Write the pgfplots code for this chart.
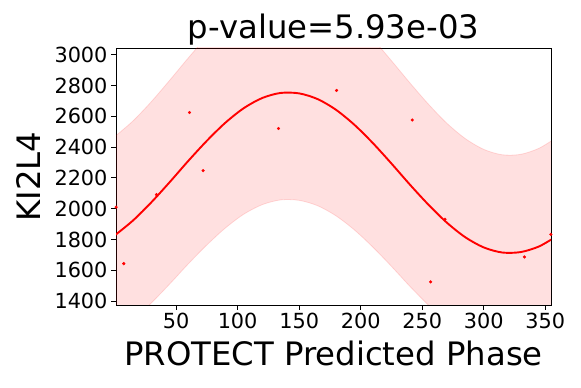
\documentclass[border=0pt]{standalone}
\usepackage{pgfplots}
\pgfplotsset{compat=1.18}
\usepgfplotslibrary{fillbetween}
\usepackage{fontspec}
\setmainfont{DejaVu Sans}

\begin{document}
\begin{tikzpicture}
\begin{axis}[
    at={(116pt,83pt)}, anchor=south west,
    scale only axis,
    width=435pt, height=257pt,
    xmin=1.2, xmax=354.6,
    ymin=1374, ymax=3044,
    xtick={50,100,...,350},
    ytick={1400,1600,...,3000},
    xtick pos=bottom, ytick pos=left,
    tick align=outside,
    major tick length=5pt,
    every tick/.style={black, line width=0.8pt},
    axis line style={line width=0.9pt},
    tick label style={font=\fontsize{20.8}{24}\selectfont},
    /pgf/number format/assume math mode=true,
    /pgf/number format/1000 sep={},
    title={p-value=5.93e-03},
    title style={font=\fontsize{32.3}{38}\selectfont, at={(axis description cs:0.5,1.012)}, anchor=base},
    xlabel={PROTECT Predicted Phase},
    xlabel style={font=\fontsize{32.3}{38}\selectfont, at={(axis description cs:0.5,-0.2335)}, anchor=base},
    ylabel={KI2L4},
    ylabel style={font=\fontsize{32.3}{38}\selectfont, at={(axis description cs:-0.1747,0.5)}, anchor=base, rotate=0},
  ]
  % confidence band
  \addplot[name path=up, draw=red, draw opacity=0.13, smooth, line width=0.8pt] coordinates {
    (0,2467) (15,2570) (30,2696) (45,2836) (60,2980) (75,3118) (90,3242) (105,3342)
    (120,3412) (135,3447) (150,3444) (165,3404) (180,3330) (195,3227) (210,3101)
    (225,2961) (240,2817) (255,2679) (270,2555) (285,2455) (300,2385) (315,2350)
    (330,2353) (345,2393) (360,2467)
  };
  \addplot[name path=lo, draw=red, draw opacity=0.13, smooth, line width=0.8pt] coordinates {
    (0,1184) (15,1276) (30,1388) (45,1512) (60,1642) (75,1764) (90,1874) (105,1964)
    (120,2026) (135,2057) (150,2054) (165,2019) (180,1953) (195,1861) (210,1749)
    (225,1625) (240,1495) (255,1373) (270,1263) (285,1173) (300,1111) (315,1080)
    (330,1083) (345,1118) (360,1184)
  };
  \addplot[red, fill opacity=0.12, draw=none] fill between[of=up and lo];
  % fitted curve
  \addplot[red, line width=1.9pt, smooth] coordinates {
    (0,1825) (15,1923) (30,2042) (45,2174) (60,2311) (75,2441) (90,2558) (105,2653)
    (120,2719) (135,2752) (150,2749) (165,2712) (180,2642) (195,2544) (210,2425)
    (225,2293) (240,2156) (255,2026) (270,1909) (285,1814) (300,1748) (315,1715)
    (330,1718) (345,1755) (360,1825)
  };
  % samples
  \addplot[only marks, mark=*, mark size=1.4pt, red] coordinates {
    (1.3,2010) (7.5,1643) (34.1,2091) (60.9,2625) (72,2247) (133.2,2521)
    (180.4,2768) (241.9,2576) (256.8,1524) (268.5,1931) (333,1686) (354.5,1833)
  };
\end{axis}
\path (0,0) rectangle (581pt,388pt);
\end{tikzpicture}
\end{document}
